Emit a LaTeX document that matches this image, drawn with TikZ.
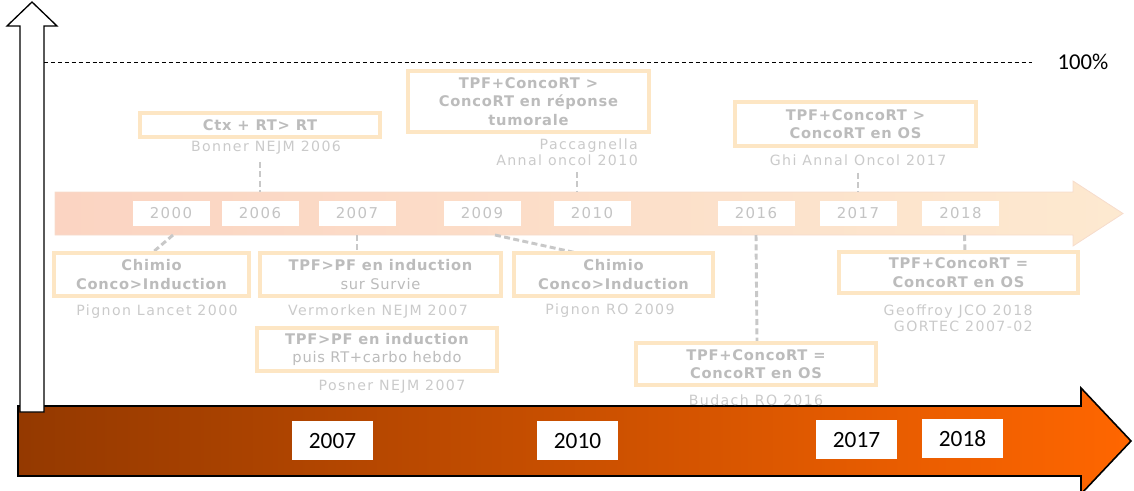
\documentclass[tikz,border=0pt]{standalone}
\usepackage{fontspec}
\setmainfont{DejaVu Sans}
\newfontfamily\capfont[LetterSpace=10]{DejaVu Sans}
\newfontfamily\titlefont[LetterSpace=5]{DejaVu Sans}
\newfontfamily\calfont{Carlito}
\usetikzlibrary{calc}

\definecolor{boxedge}{RGB}{253,230,196}
\definecolor{titlegrey}{RGB}{188,188,188}
\definecolor{capgrey}{RGB}{202,202,202}
\definecolor{yeargrey}{RGB}{196,196,196}
\definecolor{conngrey}{RGB}{200,200,200}
\definecolor{barleft}{RGB}{251,212,194}
\definecolor{barright}{RGB}{253,233,208}
\definecolor{baredge}{RGB}{246,220,204}
\definecolor{darkleft}{RGB}{148,57,0}
\definecolor{darkright}{RGB}{255,102,0}

\tikzset{
  boxsize/.style 2 args={minimum width=#1*0.75pt, minimum height=#2*0.75pt},
  study/.style={draw=boxedge, line width=2.4pt, fill=white, text=titlegrey,
    font=\titlefont\bfseries\fontsize{11}{13.9}\selectfont, align=center, inner sep=0pt},
  caption/.style={text=capgrey, font=\capfont\fontsize{10.6}{12}\selectfont,
    inner sep=0pt, align=center},
  yearlight/.style={fill=white, text=yeargrey, font=\capfont\fontsize{11.2}{12}\selectfont,
    boxsize={77}{25}, inner sep=0pt},
  yeardark/.style={fill=white, text=black, font=\calfont\fontsize{17.5}{20}\selectfont,
    boxsize={81}{39}, inner sep=0pt},
  conn/.style={draw=conngrey, line width=2.2pt, dash pattern=on 4.5pt off 2.5pt},
}

\begin{document}
\begin{tikzpicture}[x=0.75pt, y=-0.75pt]
\useasboundingbox (0,0) rectangle (1134,490);

% faded timeline arrow
\shadedraw[left color=barleft, right color=barright, draw=baredge, line width=0.6pt]
  (55,192) -- (1073,192) -- (1073,181) -- (1123,213.5) -- (1073,246) -- (1073,235) -- (55,235) -- cycle;
\coordinate (bartop) at (0,192);
\coordinate (barbot) at (0,235);

% bold timeline arrow
\shadedraw[left color=darkleft, right color=darkright, draw=black, line width=1.2pt]
  (18,406) -- (1081,406) -- (1081,388) -- (1131,441) -- (1081,494) -- (1081,476) -- (18,476) -- cycle;

% vertical axis arrow
\draw[fill=white, line width=1pt]
  (20,412) -- (20,26) -- (7,26) -- (32,2) -- (57,26) -- (44,26) -- (44,412) -- cycle;

% 100% level
\node[font=\calfont\fontsize{17}{19}\selectfont, inner sep=0pt] (pct) at (1083,62) {100\%};
\coordinate (levelstart) at (44,62);
\draw[line width=0.7pt, dash pattern=on 3pt off 2.2pt] (levelstart) -- ($(pct.west)+(-25,0)$);

% years on the faded arrow
\node[yearlight] (y2000) at (171,213.5) {2000};
\node[yearlight] (y2006) at (260,213.5) {2006};
\node[yearlight] (y2007) at (357,213.5) {2007};
\node[yearlight] (y2009) at (482,213.5) {2009};
\node[yearlight] (y2010) at (592,213.5) {2010};
\node[yearlight] (y2016) at (756,213.5) {2016};
\node[yearlight] (y2017) at (858,213.5) {2017};
\node[yearlight] (y2018) at (960.5,213.5) {2018};

% references
\node[caption] (bonner) at (266,148) {Bonner NEJM 2006};
\node[caption, anchor=east, align=right] (pacc) at (638,152) {Paccagnella\\Annal oncol 2010};
\node[caption] (ghicap) at (858,160) {Ghi Annal Oncol 2017};
\node[caption] (pigA) at (157,312) {Pignon Lancet 2000};
\node[caption] (verm) at (378,312) {Vermorken NEJM 2007};
\node[caption] (posner) at (392,387) {Posner NEJM 2007};
\node[caption] (pigB) at (610,311) {Pignon RO 2009};
\node[caption] (budcap) at (756,400) {Budach RO 2016};
\node[caption, anchor=east, align=right] (geocap) at (1033,318) {Geoffroy JCO 2018\\GORTEC 2007-02};

% connectors above the arrow
\coordinate (paccfoot) at (577,172);
\draw[conn] ($(y2006 |- bonner.south)+(0,7)$) -- (y2006 |- bartop);
\draw[conn] (paccfoot) -- (paccfoot |- bartop);
\draw[conn] ($(y2017 |- ghicap.south)+(0,7)$) -- (y2017 |- bartop);

% connectors below the arrow
\coordinate (chimAtop) at (152,253);
\coordinate (tpfAtop) at (357,253);
\coordinate (chimBtop) at (577,253);
\coordinate (budtop) at (757,342);
\coordinate (geoftop) at (965,252);
\draw[conn] ($(y2000 |- barbot)+(2,0)$) -- (chimAtop);
\draw[conn] (y2007 |- barbot) -- (tpfAtop);
\draw[conn] ($(y2009 |- barbot)+(13,0)$) -- (chimBtop);
\draw[conn] (y2016 |- barbot) -- (budtop);
\draw[conn] ($(y2018 |- barbot)+(4,0)$) -- (geoftop);

% study boxes
\node[study, boxsize={240}{24}] (ctx) at (260,125) {Ctx + RT> RT};
\node[study, boxsize={241}{61}] (paccbox) at (528.5,101.5) {TPF+ConcoRT >\\ConcoRT en réponse\\tumorale};
\node[study, boxsize={241}{44}] (ghi) at (855.5,124) {TPF+ConcoRT >\\ConcoRT en OS};
\node[study, boxsize={195}{43}] (chimA) at (151.5,274.5) {Chimio\\Conco>Induction};
\node[study, boxsize={241}{43}] (tpfA) at (380.5,274.5) {TPF>PF en induction\\{\mdseries sur Survie}};
\node[study, boxsize={240}{43}] (tpfB) at (377,349.5) {TPF>PF en induction\\{\mdseries puis RT+carbo hebdo}};
\node[study, boxsize={199}{43}] (chimB) at (613.5,274.5) {Chimio\\Conco>Induction};
\node[study, boxsize={240}{42}] (budach) at (756,364) {TPF+ConcoRT =\\ConcoRT en OS};
\node[study, boxsize={239}{41}] (geof) at (958.5,272.5) {TPF+ConcoRT =\\ConcoRT en OS};

% years on the bold arrow
\node[yeardark] (d2007) at (332.5,440.5) {2007};
\node[yeardark] (d2010) at (577.5,440.5) {2010};
\node[yeardark] (d2017) at (856.5,439.5) {2017};
\node[yeardark] (d2018) at (962.5,438.5) {2018};
\end{tikzpicture}
\end{document}
